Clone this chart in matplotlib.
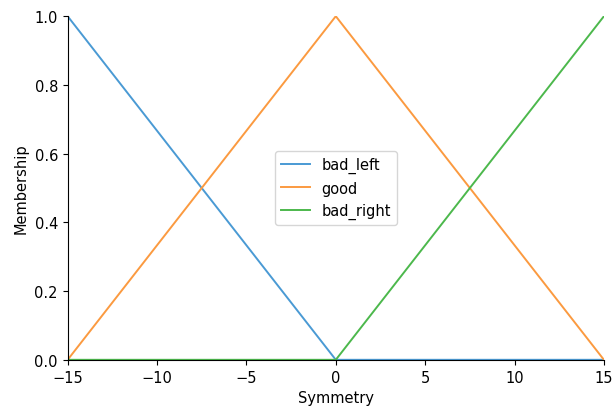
import numpy as np
import matplotlib.pyplot as plt

# universe points and membership values
x = [-15, 0, 15]
bad_left = [1, 0, 0]
good = [0, 1, 0]
bad_right = [0, 0, 1]
labels = ['bad_left', 'good', 'bad_right']
colors = ['#4a9ad4', '#fb9a40', '#4cb84c']

fig, ax = plt.subplots(figsize=(6.15, 4.10), dpi=100)
fig.subplots_adjust(left=0.11, right=0.982, top=0.958, bottom=0.12)

for y, lab, c in zip([bad_left, good, bad_right], labels, colors):
    ax.plot(x, y, linewidth=1.4, color=c, label=lab)

ax.set_xlim(-15, 15)
ax.set_ylim(0, 1.0)
ax.set_xlabel('Symmetry', fontsize=10.5)
ax.set_ylabel('Membership', fontsize=10.5)
ax.tick_params(labelsize=10.5)
ax.spines['top'].set_visible(False)
ax.spines['right'].set_visible(False)
ax.legend(loc='center', fontsize=10.5)

fig.savefig('out.png')
